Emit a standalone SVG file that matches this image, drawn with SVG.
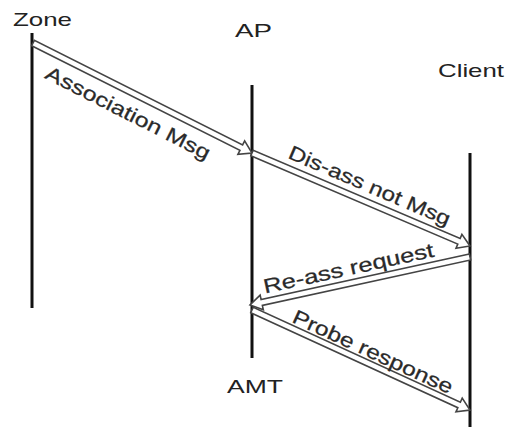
<svg xmlns="http://www.w3.org/2000/svg" width="507" height="427" viewBox="0 0 507 427">
  <style>
    .lbl { font-family: "Liberation Sans", Arial, sans-serif; font-size: 19px; fill: #222; }
    .msg { font-family: "Liberation Sans", Arial, sans-serif; font-size: 20px; fill: #2a2a2a; stroke: #2a2a2a; stroke-width: 0.25; text-anchor: middle; }
    .life { stroke: #111; stroke-width: 3; fill: none; }
    .arrow { fill: #fff; stroke: #444; stroke-width: 1.6; stroke-linejoin: miter; }
  </style>
  <rect width="507" height="427" fill="#fff"/>
  <g id="zone">
    <line class="life" x1="32" y1="33" x2="32" y2="308"/>
    <text class="lbl" x="13" y="26" textLength="59" lengthAdjust="spacingAndGlyphs">Zone</text>
  </g>
  <g id="ap">
    <line class="life" x1="252" y1="85" x2="252" y2="358"/>
    <text class="lbl" x="235" y="37" textLength="37" lengthAdjust="spacingAndGlyphs">AP</text>
    <text class="lbl" x="227" y="393" textLength="56" lengthAdjust="spacingAndGlyphs">AMT</text>
  </g>
  <g id="client">
    <line class="life" x1="470" y1="153" x2="470" y2="427"/>
    <text class="lbl" x="438" y="77" textLength="66" lengthAdjust="spacingAndGlyphs">Client</text>
  </g>
  <g id="connectors">
    <g id="m1">
      <polygon class="arrow" points="31.65,45.68 239.93,150.29 237.91,154.31 252,153 244.65,140.91 242.63,144.93 34.35,40.32"/>
      <text class="msg" transform="translate(125,119) rotate(26.9)" x="0" y="0" textLength="182" lengthAdjust="spacingAndGlyphs">Association Msg</text>
    </g>
    <g id="m2">
      <polygon class="arrow" points="250.82,155.76 457.78,244.05 456.02,248.19 470,246 461.90,234.39 460.14,238.53 253.18,150.24"/>
      <text class="msg" transform="translate(367,192) rotate(23.1)" x="0" y="0" textLength="174" lengthAdjust="spacingAndGlyphs">Dis-ass not Msg</text>
    </g>
    <g id="m3">
      <polygon class="arrow" points="469.36,254.07 261.08,299.51 260.12,295.11 250,305 263.32,309.77 262.36,305.37 470.64,259.93"/>
      <text class="msg" transform="translate(350,275) rotate(-12.3)" x="0" y="0" textLength="174" lengthAdjust="spacingAndGlyphs">Re-ass request</text>
    </g>
    <g id="m4">
      <polygon class="arrow" points="250.75,312.73 457.84,407.73 455.96,411.82 470,410 462.22,398.18 460.34,402.27 253.25,307.27"/>
      <text class="msg" transform="translate(370,358) rotate(24.6)" x="0" y="0" textLength="174" lengthAdjust="spacingAndGlyphs">Probe response</text>
    </g>
  </g>
</svg>
